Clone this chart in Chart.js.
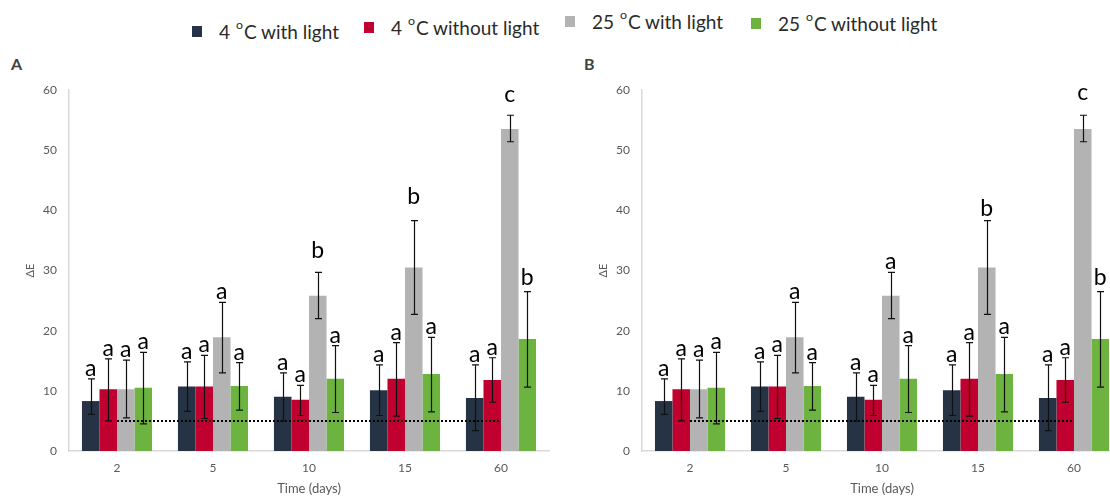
<!DOCTYPE html>
<html>
<head>
<meta charset="utf-8">
<script src="https://cdn.jsdelivr.net/npm/chart.js@4.4.0/dist/chart.umd.min.js"></script>
<style>
html,body{margin:0;padding:0;background:#fff;overflow:hidden;width:1110px;height:497px;}
#wrap{position:relative;width:1110px;height:497px;overflow:hidden;font-family:Lato,"Open Sans",sans-serif;}
canvas{position:absolute;top:0;}
#cA{left:0;}
#cB{left:573px;}
.lg{position:absolute;display:flex;align-items:center;font-size:19px;font-weight:400;color:#2a2a2a;white-space:nowrap;}
.sw{width:10px;height:11px;margin-right:17px;display:inline-block;}
.lg sup{font-size:0.65em;vertical-align:0.8em;line-height:0;margin:0 1px;}
.pl{position:absolute;font-weight:bold;font-size:16px;color:#404040;}
</style>
</head>
<body>
<div id="wrap">
  <div id="legend"></div>
  <div class="pl" style="left:11px;top:54px;">A</div>
  <div class="pl" style="left:584px;top:54px;">B</div>
  <canvas id="cA" width="560" height="497"></canvas>
  <canvas id="cB" width="560" height="497"></canvas>
</div>
<script>
// ---- data ----
const categories = ['2', '5', '10', '15', '60'];
const seriesNames = ['4 \u00baC with light', '4 \u00baC without light', '25 \u00baC with light', '25 \u00baC without light'];
const seriesColors = ['#263345', '#c0002e', '#b3b3b3', '#6cb43f'];

const light4  = [8.3, 10.7, 9.0, 10.1, 8.8];
const dark4   = [10.25, 10.7, 8.5, 12.0, 11.8];
const light25 = [10.25, 18.9, 25.8, 30.5, 53.5];
const dark25  = [10.5, 10.8, 12.0, 12.8, 18.6];

const light4Low  = [6.1, 6.6, 5.0, 5.9, 3.4];
const light4High = [12.0, 14.8, 13.0, 14.3, 14.3];
const dark4Low   = [5.0, 5.4, 5.9, 5.8, 8.1];
const dark4High  = [15.3, 15.9, 10.9, 18.0, 15.5];
const light25Low  = [5.5, 13.0, 22.0, 22.7, 51.4];
const light25High = [15.1, 24.7, 29.7, 38.3, 55.8];
const dark25Low   = [4.5, 6.8, 6.4, 6.5, 10.6];
const dark25High  = [16.4, 14.7, 17.5, 18.9, 26.5];

const threshold = [5, 5, 5, 5, 5];

const lettersA_light4  = ['a', 'a', 'a', 'a', 'a'];
const lettersA_dark4   = ['a', 'a', 'a', 'a', 'a'];
const lettersA_light25 = ['a', 'a', 'b', 'b', 'c'];
const lettersA_dark25  = ['a', 'a', 'a', 'a', 'b'];
const lettersB_light4  = ['a', 'a', 'a', 'a', 'a'];
const lettersB_dark4   = ['a', 'a', 'a', 'a', 'a'];
const lettersB_light25 = ['a', 'a', 'a', 'b', 'c'];
const lettersB_dark25  = ['a', 'a', 'a', 'a', 'b'];

const yTicks = [0, 10, 20, 30, 40, 50, 60];

// ---- legend (HTML) ----
const legendPos = [{l:192, t:20}, {l:364, t:16}, {l:565, t:10}, {l:751, t:12}];
const legendHtml = seriesNames.map((n, i) => {
  const txt = n.replace('\u00ba', '<sup>o</sup>');
  return `<div class="lg" style="left:${legendPos[i].l}px;top:${legendPos[i].t}px;"><span class="sw" style="background:${seriesColors[i]}"></span><span>${txt}</span></div>`;
}).join('');
document.getElementById('legend').innerHTML = legendHtml;

// ---- plugin for error bars + significance letters ----
function makeErrPlugin(bars, lifts) {
  return {
    id: 'errLetters',
    afterDatasetsDraw(chart) {
      const ctx = chart.ctx;
      const ys = chart.scales.y;
      bars.forEach((b, di) => {
        const meta = chart.getDatasetMeta(di);
        meta.data.forEach((el, i) => {
          const x = Math.round(el.x) + 0.5;
          const yh = ys.getPixelForValue(b.high[i]);
          const yl = ys.getPixelForValue(b.low[i]);
          ctx.save();
          ctx.strokeStyle = '#111';
          ctx.lineWidth = 1.2;
          ctx.beginPath();
          ctx.moveTo(x, yh); ctx.lineTo(x, yl);
          ctx.moveTo(x - 3.5, yh); ctx.lineTo(x + 3.5, yh);
          ctx.moveTo(x - 3.5, yl); ctx.lineTo(x + 3.5, yl);
          ctx.stroke();
          const key = di + '-' + i;
          const lift = (lifts[key] !== undefined) ? lifts[key] : 3;
          ctx.fillStyle = '#000';
          ctx.font = '23px Lato';
          ctx.textAlign = 'center';
          ctx.textBaseline = 'alphabetic';
          ctx.fillText(b.letters[i], el.x, yh - lift);
          ctx.restore();
        });
      });
    }
  };
}

function makeChart(id, letters, lifts) {
  const datasets = [
    {type: 'bar', label: seriesNames[0], data: light4, backgroundColor: seriesColors[0], order: 1},
    {type: 'bar', label: seriesNames[1], data: dark4, backgroundColor: seriesColors[1], order: 1},
    {type: 'bar', label: seriesNames[2], data: light25, backgroundColor: seriesColors[2], order: 1},
    {type: 'bar', label: seriesNames[3], data: dark25, backgroundColor: seriesColors[3], order: 1},
    {type: 'line', label: 'threshold', data: threshold, borderColor: '#000', borderWidth: 2,
     borderDash: [2, 2], pointRadius: 0, fill: false, order: 0}
  ];
  const bars = [
    {low: light4Low, high: light4High, letters: letters[0]},
    {low: dark4Low, high: dark4High, letters: letters[1]},
    {low: light25Low, high: light25High, letters: letters[2]},
    {low: dark25Low, high: dark25High, letters: letters[3]}
  ];
  return new Chart(document.getElementById(id), {
    data: {labels: categories, datasets},
    options: {
      responsive: false,
      animation: false,
      devicePixelRatio: 1,
      layout: {padding: {left: 0, right: 11, top: 90, bottom: 0}},
      datasets: {bar: {categoryPercentage: 0.73, barPercentage: 1.0}},
      plugins: {legend: {display: false}, tooltip: {enabled: false}},
      scales: {
        x: {
          grid: {display: false, drawTicks: false},
          border: {display: true, color: '#d9d9d9', width: 1.5},
          ticks: {color: '#595959', font: {family: 'Lato', size: 12}, padding: 10},
          title: {display: true, text: 'Time (days)', color: '#595959',
                  font: {family: 'Lato', size: 13}, padding: {top: 0, bottom: 0}},
          afterFit: (s) => { s.height = 46; }
        },
        y: {
          min: 0, max: 60,
          afterBuildTicks: (s) => { s.ticks = yTicks.map(v => ({value: v})); },
          grid: {display: false, drawTicks: false},
          border: {display: true, color: '#d9d9d9', width: 1.5},
          ticks: {color: '#595959', font: {family: 'Lato', size: 12}, padding: 12},
          title: {display: true, text: '\u0394E', color: '#595959',
                  font: {family: 'Lato', size: 11}, padding: {top: 24, bottom: 0}},
          afterFit: (s) => { s.width = 69; }
        }
      }
    },
    plugins: [makeErrPlugin(bars, lifts)]
  });
}

makeChart('cA', [lettersA_light4, lettersA_dark4, lettersA_light25, lettersA_dark25],
          {'2-2': 14, '2-3': 17, '2-4': 13, '3-4': 7});
makeChart('cB', [lettersB_light4, lettersB_dark4, lettersB_light25, lettersB_dark25],
          {'2-3': 5, '2-4': 15, '3-4': 7});
</script>
</body>
</html>
